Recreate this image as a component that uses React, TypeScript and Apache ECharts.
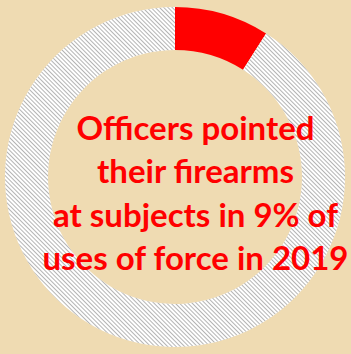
import React, { useEffect, useRef } from "react";
import * as echarts from "echarts";

const categories = ["Pointed firearm", "Other uses of force"];
const values = [9, 91];
const titleLines = [
  "Officers pointed",
  "their firearms",
  "at subjects in 9% of",
  "uses of force in 2019",
];

export default function App() {
  const ref = useRef<HTMLDivElement>(null);
  useEffect(() => {
    document.body.style.margin = "0";
    const chart = echarts.init(ref.current!, null, { renderer: "svg" });
    chart.setOption({
      animation: false,
      backgroundColor: "#EFDBB2",
      series: [
        {
          type: "pie",
          radius: [127, 170],
          center: [175, 177],
          startAngle: 90,
          clockwise: true,
          label: { show: false },
          labelLine: { show: false },
          emphasis: { disabled: true },
          silent: true,
          data: categories.map((name, i) => ({
            name,
            value: values[i],
            itemStyle:
              i === 0
                ? { color: "#FF0000" }
                : {
                    color: "#FFFFFF",
                    decal: {
                      symbol: "rect",
                      color: "#b4b4b4",
                      dashArrayX: [1, 0],
                      dashArrayY: [1, 2],
                      rotation: Math.PI / 4,
                      symbolSize: 1,
                    },
                  },
          })),
        },
      ],
      graphic: [
        {
          type: "text",
          x: 195.5,
          y: 192,
          z: 100,
          style: {
            text: titleLines.join("\n"),
            fill: "#FF0000",
            font: "bold 33px Lato",
            lineHeight: 43.5,
            align: "center",
            verticalAlign: "middle",
          },
        },
      ],
    });
    return () => chart.dispose();
  }, []);
  return (
    <div
      ref={ref}
      style={{ position: "absolute", left: 0, top: 0, width: 351, height: 354 }}
    />
  );
}
